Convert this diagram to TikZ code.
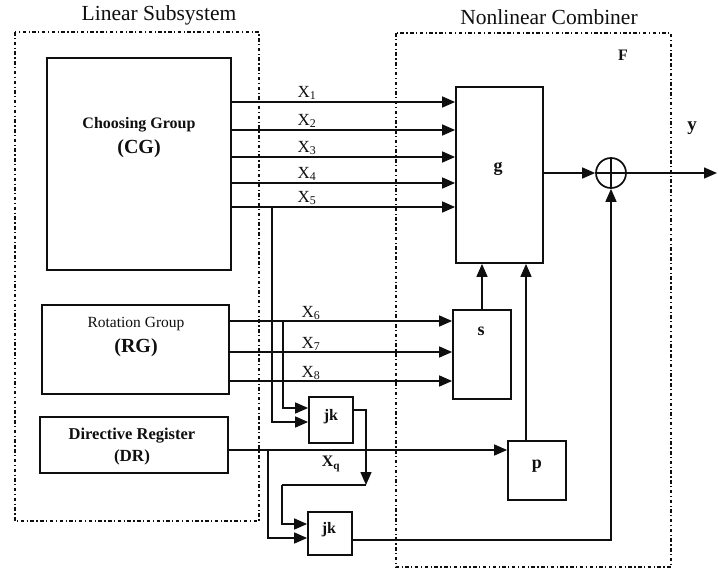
\documentclass[tikz,border=0pt]{standalone}
\usepackage{fontspec}
\setmainfont{Liberation Serif}
\usetikzlibrary{arrows.meta,positioning,calc}
\definecolor{inkBlack}{RGB}{15,15,15}

\begin{document}
\begin{tikzpicture}[x=1pt, y=-1pt, inkBlack,
    blk/.style={draw, line width=1.8pt, inner sep=0pt},
    frame/.style={draw, line width=1.5pt, dash pattern=on 3.5pt off 2.5pt on 1.2pt off 2.5pt},
    arr/.style={line width=1.5pt, -{Triangle[length=13pt,width=11pt]}},
    wire/.style={line width=1.5pt},
    ttl/.style={font=\fontsize{21.5}{23}\selectfont},
    bsm/.style={font=\bfseries\fontsize{16}{18}\selectfont},
    bbig/.style={font=\bfseries\fontsize{20}{22}\selectfont},
    xlbl/.style={font=\fontsize{17}{19}\selectfont, anchor=base},
  ]
  \useasboundingbox (0,0) rectangle (718,573);
  % the two subsystems
  \draw[frame] (15,32) rectangle (259,521);
  \draw[frame] (396,33) rectangle (671,567);
  \node[ttl] (linTitle) at (159,15) {Linear Subsystem};
  \node[ttl] (nlTitle) at (549,17) {Nonlinear Combiner};
  \node[bsm, font=\bfseries\fontsize{16}{18}\selectfont] (fLbl) at (623,55) {F};
  % linear blocks
  \node[blk, minimum width=184pt, minimum height=212pt] (CG) at (139,164) {};
  \node[bsm] (cgName) at (139,125) {Choosing Group};
  \node[bbig] (cgAbbr) at (139,149) {(CG)};
  \node[blk, minimum width=187pt, minimum height=89pt] (RG) at (135.5,349.5) {};
  \node[ttl, font=\fontsize{15.5}{17}\selectfont] (rgName) at (136,324) {Rotation Group};
  \node[bbig] (rgAbbr) at (136,348) {(RG)};
  \node[blk, minimum width=188pt, minimum height=56pt] (DR) at (134,445) {};
  \node[bsm, font=\bfseries\fontsize{16.5}{18}\selectfont] (drName) at (132,436) {Directive Register};
  \node[bsm, font=\bfseries\fontsize{17}{19}\selectfont] (drAbbr) at (132,457) {(DR)};
  % combiner blocks
  \node[blk, minimum width=87pt, minimum height=176pt] (g) at (499.5,175) {};
  \node[bsm, font=\bfseries\fontsize{18}{20}\selectfont] (gLbl) at (498,169) {g};
  \node[blk, minimum width=58pt, minimum height=89pt] (s) at (482,354.5) {};
  \node[bsm, font=\bfseries\fontsize{18}{20}\selectfont] (sLbl) at (481,331) {s};
  \node[blk, minimum width=58pt, minimum height=59pt] (p) at (537,470.5) {};
  \node[bsm, font=\bfseries\fontsize{18}{20}\selectfont] (pLbl) at (537,466) {p};
  \node[blk, minimum width=44pt, minimum height=46pt] (jkA) at (331,420) {};
  \node[bsm] (jkALbl) at (331,417) {jk};
  \node[blk, minimum width=44pt, minimum height=43pt] (jkB) at (330,533.5) {};
  \node[bsm] (jkBLbl) at (329,530) {jk};
  \node[draw, circle, line width=1.7pt, minimum size=30pt, inner sep=0pt] (add) at (611,173) {};
  \draw[wire] (add.north) -- (add.south) (add.west) -- (add.east);
  % CG outputs X1..X5
  \foreach \i/\yy in {1/102,2/130,3/157,4/183,5/207} {
    \draw[arr] (CG.east |- 0,\yy) -- (g.west |- 0,\yy);
    \node[xlbl] (x\i) at (307,\yy-5) {X\textsubscript{\i}};
  }
  % RG outputs X6..X8
  \foreach \i/\yy in {6/321,7/352,8/381} {
    \draw[arr] (RG.east |- 0,\yy) -- (s.west |- 0,\yy);
    \node[xlbl] (x\i) at (311,\yy-4) {X\textsubscript{\i}};
  }
  % DR to p, s and p up to g
  \draw[arr] (DR.east |- 0,450) -- (p.west |- 0,450);
  \draw[arr] (s.north) -- (s.north |- g.south);
  \draw[arr] (p.north -| 526,0) -- (g.south -| 526,0);
  % g to adder, output y
  \draw[arr] (g.east |- add.west) -- (add.west);
  \coordinate (out) at (717,173);
  \draw[arr] (add.east) -- (out);
  \node[bsm, font=\bfseries\fontsize{19}{21}\selectfont] (yLbl) at (692,128) {y};
  % branches into the jk flip-flops
  \coordinate (b5) at (272,207);
  \coordinate (b6) at (283,321);
  \coordinate (b9) at (268,450);
  \draw[arr] (b6) |- (jkA.west |- 0,408);
  \draw[arr] (b5) |- (jkA.west |- 0,422);
  \coordinate (q) at (366,485);
  \draw[arr] (jkA.east |- 0,410) -| (q);
  \node[bsm] (xq) at (331,464) {X\textsubscript{q}};
  \draw[wire] (q) -- (282,485);
  \draw[arr] (282,485) |- (jkB.west |- 0,524);
  \draw[arr] (b9) |- (jkB.west |- 0,538);
  \draw[arr] (jkB.east |- 0,540) -| (add.south);
\end{tikzpicture}
\end{document}
